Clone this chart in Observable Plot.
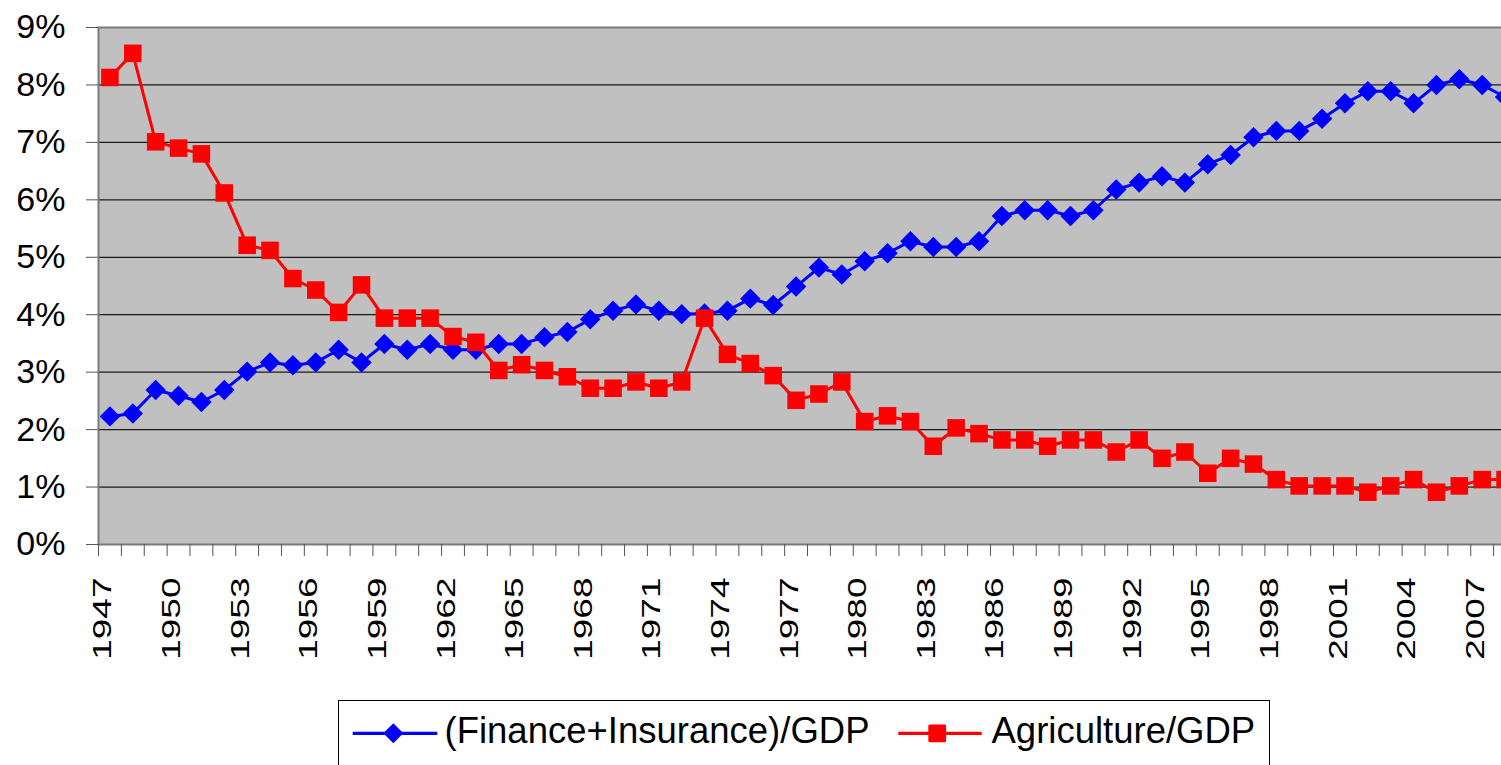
<!DOCTYPE html>
<html>
<head>
<meta charset="utf-8">
<script src="https://cdn.jsdelivr.net/npm/d3@7"></script>
<script src="https://cdn.jsdelivr.net/npm/@observablehq/plot@0.6"></script>
<style>
  html, body { margin: 0; padding: 0; background: #fff; overflow: hidden; }
  #wrap { position: relative; width: 1501px; height: 765px; overflow: hidden; font-family: "Liberation Sans", Arial, sans-serif; }
  #chart svg { display: block; max-width: none !important; }
  #legend { position: absolute; left: 338px; top: 700px; width: 932px; height: 110px; border: 1.5px solid #000; box-sizing: border-box; background: #fff; }
  .lt { position: absolute; font-size: 36.5px; color: #000; white-space: nowrap; line-height: 1; }
</style>
</head>
<body>
<div id="wrap">
  <div id="chart"></div>
  <div id="legend"></div>
</div>
<script>
const years = d3.range(1947, 2009);
const finance = [
  2.23, 2.28, 2.69, 2.59, 2.48, 2.69, 3.01, 3.17, 3.12, 3.17,
  3.39, 3.17, 3.49, 3.39, 3.49, 3.39, 3.39, 3.49, 3.49, 3.61,
  3.70, 3.92, 4.07, 4.18, 4.07, 4.01, 4.02, 4.07, 4.28, 4.17,
  4.49, 4.82, 4.70, 4.93, 5.07, 5.28, 5.18, 5.18, 5.28, 5.72,
  5.82, 5.82, 5.72, 5.82, 6.18, 6.30, 6.41, 6.30, 6.62, 6.78,
  7.09, 7.20, 7.20, 7.41, 7.68, 7.89, 7.89, 7.68, 8.00, 8.10,
  8.00, 7.79
];
const agriculture = [
  8.13, 8.55, 7.01, 6.90, 6.80, 6.12, 5.21, 5.12, 4.63, 4.43,
  4.04, 4.52, 3.94, 3.94, 3.94, 3.62, 3.52, 3.03, 3.13, 3.03,
  2.92, 2.72, 2.72, 2.83, 2.72, 2.83, 3.94, 3.31, 3.15, 2.94,
  2.51, 2.62, 2.83, 2.14, 2.24, 2.14, 1.71, 2.03, 1.93, 1.82,
  1.82, 1.71, 1.82, 1.82, 1.61, 1.82, 1.50, 1.61, 1.24, 1.50,
  1.40, 1.13, 1.02, 1.02, 1.02, 0.91, 1.02, 1.13, 0.91, 1.02,
  1.13, 1.13
];
const xLabels = [1947, 1950, 1953, 1956, 1959, 1962, 1965, 1968, 1971, 1974, 1977, 1980, 1983, 1986, 1989, 1992, 1995, 1998, 2001, 2004, 2007];
const yTicks = [0, 1, 2, 3, 4, 5, 6, 7, 8, 9];
const gridValues = [1, 2, 3, 4, 5, 6, 7, 8];
const seriesNames = ["(Finance+Insurance)/GDP", "Agriculture/GDP"];
const seriesColors = ["#0000ff", "#ff0000"];

const rows = years.map((yr, i) => ({year: yr, fin: finance[i], agr: agriculture[i]}));

const W = 1520, H = 690, ML = 98, MR = 4, MT = 27, MB = 146;
const bw = (W - ML - MR) / years.length;

const chart = Plot.plot({
  width: W,
  height: H,
  marginLeft: ML,
  marginRight: MR,
  marginTop: MT,
  marginBottom: MB,
  style: {fontFamily: "'Liberation Sans', Arial, sans-serif", color: "#000", background: "#fff", overflow: "visible", maxWidth: "none"},
  x: {type: "band", domain: years, padding: 0, axis: null, label: null},
  y: {domain: [0, 9], axis: null, label: null},
  marks: [
    Plot.frame({fill: "#c0c0c0", stroke: null}),
    Plot.ruleY(gridValues, {stroke: "#1a1a1a", strokeWidth: 1.3}),
    Plot.frame({stroke: "#7a7a7a", strokeWidth: 2, fill: null}),
    Plot.axisY({ticks: yTicks, tickSize: 12, tickPadding: 21, tickFormat: d => d + "%", fontSize: 34, stroke: "#555", label: null}),
    Plot.axisX({ticks: years, tickSize: 12, tickFormat: () => "", stroke: "#555", dx: -bw / 2, label: null}),
    Plot.axisX({ticks: xLabels, tickSize: 0, tickPadding: 33, tickRotate: -90, fontSize: 37, dx: -7, tickFormat: d => String(d), label: null}),
    Plot.line(rows, {x: "year", y: "fin", stroke: seriesColors[0], strokeWidth: 3}),
    Plot.dot(rows, {x: "year", y: "fin", symbol: "diamond2", r: 9.2, fill: seriesColors[0], stroke: null}),
    Plot.line(rows, {x: "year", y: "agr", stroke: seriesColors[1], strokeWidth: 3}),
    Plot.dot(rows, {x: "year", y: "agr", symbol: "square", r: 9.9, fill: seriesColors[1], stroke: null})
  ]
});

chart.style.maxWidth = "none";
chart.style.height = H + "px";
chart.style.width = W + "px";

// compress rotated year labels to match reference glyph proportions
chart.querySelectorAll("g[aria-label='x-axis tick label'] text").forEach(t => {
  const tr = t.getAttribute("transform") || "";
  t.setAttribute("transform", tr + " scale(1,0.72)");
});

document.getElementById("chart").appendChild(chart);

// Legend
const legend = document.getElementById("legend");
const ns = "http://www.w3.org/2000/svg";
const ksvg = document.createElementNS(ns, "svg");
ksvg.setAttribute("width", 932);
ksvg.setAttribute("height", 110);
ksvg.style.position = "absolute";
ksvg.style.left = "-1.5px";
ksvg.style.top = "-1.5px";
ksvg.innerHTML = `
  <line x1="14.7" x2="99.3" y1="33.3" y2="33.3" stroke="${seriesColors[0]}" stroke-width="3.2"/>
  <path d="M55.3,23.3 L65.3,33.3 L55.3,43.3 L45.3,33.3 Z" fill="${seriesColors[0]}"/>
  <line x1="560.3" x2="643.7" y1="33.3" y2="33.3" stroke="${seriesColors[1]}" stroke-width="3.2"/>
  <rect x="590.3" y="24.4" width="17.8" height="17.8" rx="1.5" fill="${seriesColors[1]}"/>
`;
legend.appendChild(ksvg);
const t1 = document.createElement("div");
t1.className = "lt"; t1.textContent = seriesNames[0];
t1.style.left = "105.5px"; t1.style.top = "12px";
legend.appendChild(t1);
const t2 = document.createElement("div");
t2.className = "lt"; t2.textContent = seriesNames[1];
t2.style.left = "652.5px"; t2.style.top = "12px";
legend.appendChild(t2);
</script>
</body>
</html>
